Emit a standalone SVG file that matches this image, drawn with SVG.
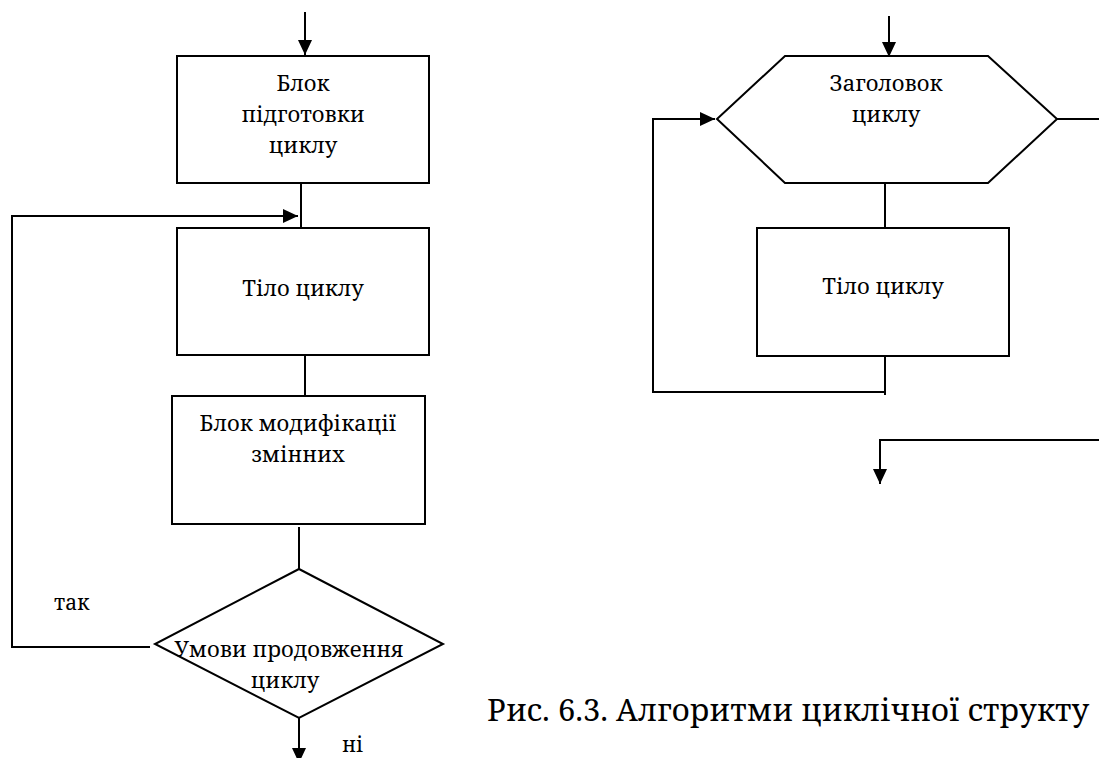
<svg xmlns="http://www.w3.org/2000/svg" width="1099" height="758" viewBox="0 0 1099 758">
  <defs>
    <marker id="arrow" markerUnits="userSpaceOnUse" markerWidth="16" markerHeight="14" refX="15" refY="7" orient="auto">
      <path d="M0,0 L15,7 L0,14 Z" fill="#000000"/>
    </marker>
  </defs>
  <rect width="1099" height="758" fill="#ffffff"/>

  <!-- connectors -->
  <g id="connectors" fill="none" stroke="#000000" stroke-width="2">
    <!-- left flowchart: entry, loop-back and exit -->
    <line x1="305" y1="12" x2="305" y2="55" marker-end="url(#arrow)"/>
    <line x1="301" y1="183" x2="301" y2="228"/>
    <polyline points="150,647 12,647 12,216 298,216" marker-end="url(#arrow)"/>
    <line x1="305" y1="355" x2="305" y2="397"/>
    <line x1="299" y1="527" x2="299" y2="569"/>
    <line x1="299" y1="718" x2="299" y2="763" marker-end="url(#arrow)"/>
    <!-- right flowchart: header loop -->
    <line x1="889" y1="16" x2="889" y2="57" marker-end="url(#arrow)"/>
    <line x1="885" y1="183" x2="885" y2="228"/>
    <polyline points="885,356 885,395"/>
    <polyline points="885,392 653,392 653,119 715,119" marker-end="url(#arrow)"/>
    <line x1="1057" y1="119" x2="1100" y2="119"/>
    <polyline points="1100,440 880,440 880,484" marker-end="url(#arrow)"/>
  </g>

  <!-- left flowchart nodes -->
  <g id="prep" font-family="'Noto Serif', serif" font-size="22" text-anchor="middle">
    <rect x="177" y="56" width="252" height="127" fill="#ffffff" stroke="#000000" stroke-width="2"/>
    <text x="303" y="91">Блок</text>
    <text x="303" y="122">підготовки</text>
    <text x="303" y="153">циклу</text>
  </g>
  <g id="body-left" font-family="'Noto Serif', serif" font-size="22" text-anchor="middle">
    <rect x="177" y="228" width="252" height="127" fill="#ffffff" stroke="#000000" stroke-width="2"/>
    <text x="303" y="296">Тіло циклу</text>
  </g>
  <g id="modify" font-family="'Noto Serif', serif" font-size="22" text-anchor="middle">
    <rect x="172" y="396" width="253" height="128" fill="#ffffff" stroke="#000000" stroke-width="2"/>
    <text x="298" y="431">Блок модифікації</text>
    <text x="298" y="462">змінних</text>
  </g>
  <g id="condition" font-family="'Noto Serif', serif" font-size="22" text-anchor="middle">
    <polygon points="299,569 443,644 299,718 155,644" fill="#ffffff" stroke="#000000" stroke-width="2"/>
    <text x="289" y="657">Умови продовження</text>
    <text x="285" y="688">циклу</text>
  </g>
  <g id="labels-left" font-family="'Noto Serif', serif" font-size="21">
    <text x="54" y="610">так</text>
    <text x="342" y="752">ні</text>
  </g>

  <!-- right flowchart nodes -->
  <g id="header" font-family="'Noto Serif', serif" font-size="22" text-anchor="middle">
    <polygon points="785,56 988,56 1057,119 988,183 785,183 717,119" fill="#ffffff" stroke="#000000" stroke-width="2"/>
    <text x="886" y="91">Заголовок</text>
    <text x="886" y="122">циклу</text>
  </g>
  <g id="body-right" font-family="'Noto Serif', serif" font-size="22" text-anchor="middle">
    <rect x="757" y="228" width="252" height="128" fill="#ffffff" stroke="#000000" stroke-width="2"/>
    <text x="883" y="294">Тіло циклу</text>
  </g>

  <g id="caption" font-family="'Noto Serif', serif" font-size="31">
    <text x="487" y="721">Рис. 6.3. Алгоритми циклічної структу</text>
  </g>
</svg>
